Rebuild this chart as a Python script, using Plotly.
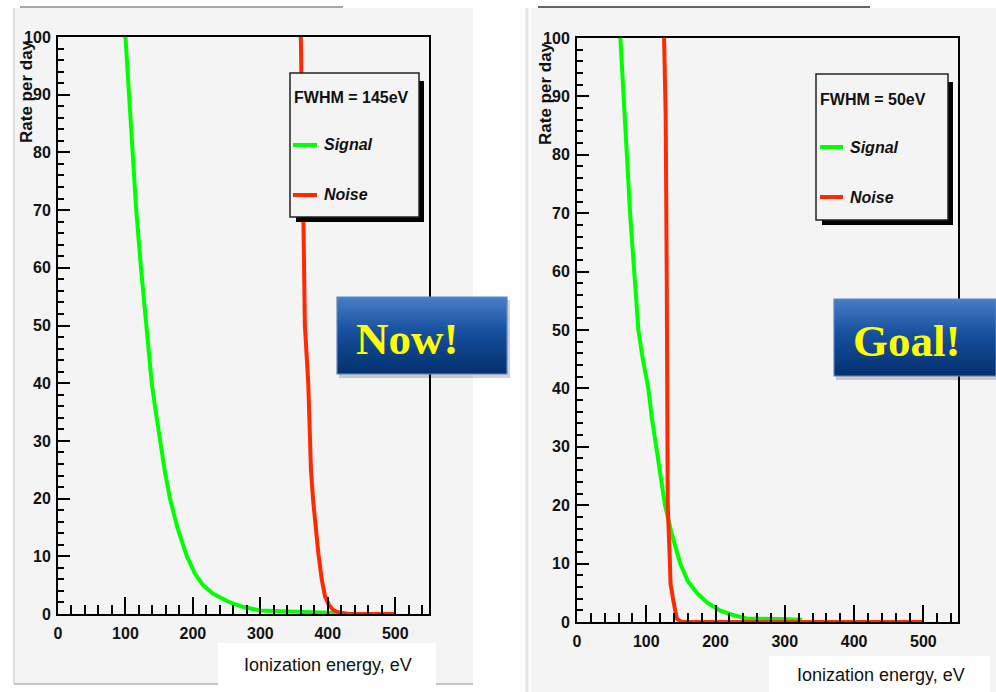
import plotly.graph_objects as go

W, H = 996, 692

# ---------------- data ----------------
now_signal_E = [100, 105, 110, 116, 123, 131, 139, 145, 151, 158, 166, 177, 191, 203, 215, 230, 255, 275, 300, 340, 380, 430]
now_signal_R = [100, 90, 80, 70, 60, 50, 40, 35, 30, 25, 20, 15, 10, 7, 5, 3.5, 2, 1.2, 0.6, 0.4, 0.2, 0.1]
now_noise_E = [360, 361, 363, 366, 371, 373, 375, 378, 382, 386, 391, 396, 402, 408, 415, 428, 500]
now_noise_R = [100, 90, 70, 50, 40, 32, 25, 20, 15, 10.5, 6, 3, 1.5, 0.7, 0.3, 0, 0]

goal_signal_E = [62.6, 68, 72, 76.6, 82, 88.6, 95, 103, 108, 114, 120, 127, 137, 149, 160, 173, 188, 206, 225, 245, 290, 325]
goal_signal_R = [100, 90, 80, 70, 60, 50, 45, 40, 35, 30, 25, 20, 15, 10, 7, 5, 3.3, 2, 1.2, 0.6, 0.5, 0.4]
goal_noise_E = [125.7, 128, 129.5, 130, 131, 134, 135, 139, 144, 151, 500]
goal_noise_R = [100, 87, 60, 40, 20, 10.6, 6.6, 3.7, 0.6, 0, 0]

x_ticks = [0, 100, 200, 300, 400, 500]
y_ticks = [0, 10, 20, 30, 40, 50, 60, 70, 80, 90, 100]
fwhm_labels = ["FWHM = 145eV", "FWHM = 50eV"]
badges = ["Now!", "Goal!"]
x_title = "Ionization energy, eV"
y_title = "Rate per day"

GREEN = "#00ff00"
RED = "#ff2a00"
BG = "#f4f4f4"


def px(x):
    return x / W


def py(y):
    return 1 - y / H


fig = go.Figure()

fig.add_trace(go.Scatter(x=now_signal_E, y=now_signal_R, mode="lines",
                         line=dict(color=GREEN, width=4), xaxis="x", yaxis="y", showlegend=False))
fig.add_trace(go.Scatter(x=now_noise_E, y=now_noise_R, mode="lines",
                         line=dict(color=RED, width=4), xaxis="x", yaxis="y", showlegend=False))
fig.add_trace(go.Scatter(x=goal_signal_E, y=goal_signal_R, mode="lines",
                         line=dict(color=GREEN, width=4), xaxis="x2", yaxis="y2", showlegend=False))
fig.add_trace(go.Scatter(x=goal_noise_E, y=goal_noise_R, mode="lines",
                         line=dict(color=RED, width=4), xaxis="x2", yaxis="y2", showlegend=False))

tickfont = dict(family="Liberation Sans, Arial", size=16, color="#111", weight="bold")


def xaxis(domain, anchor):
    return dict(domain=domain, anchor=anchor, range=[0, 550], tickvals=x_ticks, automargin=False,
                ticks="inside", ticklen=17, tickwidth=1.5, tickcolor="black",
                minor=dict(dtick=20, tick0=0, ticks="inside", ticklen=9, tickwidth=1.5, tickcolor="black"),
                showline=True, linecolor="black", linewidth=2, mirror=True,
                showgrid=False, zeroline=False, tickfont=tickfont, ticklabelstandoff=4,
                fixedrange=True)


def yaxis(domain, anchor):
    return dict(domain=domain, anchor=anchor, range=[0, 100], tickvals=y_ticks, automargin=False,
                ticks="inside", ticklen=12, tickwidth=1.5, tickcolor="black",
                minor=dict(dtick=2, tick0=0, ticks="inside", ticklen=6, tickwidth=1.5, tickcolor="black"),
                showline=True, linecolor="black", linewidth=2, mirror=True,
                showgrid=False, zeroline=False, tickfont=tickfont, ticklabelstandoff=2,
                fixedrange=True)


shapes = []
annotations = []

# canvas panels
shapes.append(dict(type="rect", xref="paper", yref="paper", x0=px(14), x1=px(473), y0=py(684), y1=py(8),
                   fillcolor=BG, line=dict(width=0), layer="below"))
shapes.append(dict(type="line", xref="paper", yref="paper", x0=px(14), x1=px(14), y0=py(684), y1=py(8),
                   line=dict(color="#dddddd", width=2), layer="below"))
shapes.append(dict(type="line", xref="paper", yref="paper", x0=px(14), x1=px(473), y0=py(684), y1=py(684),
                   line=dict(color="#c4c4c4", width=2), layer="below"))
shapes.append(dict(type="line", xref="paper", yref="paper", x0=px(20), x1=px(343), y0=py(7), y1=py(7),
                   line=dict(color="#8a8a8a", width=1.5), layer="below"))

shapes.append(dict(type="rect", xref="paper", yref="paper", x0=px(531), x1=px(996), y0=py(692), y1=py(8),
                   fillcolor=BG, line=dict(width=0), layer="below"))
shapes.append(dict(type="line", xref="paper", yref="paper", x0=px(527), x1=px(527), y0=py(692), y1=py(8),
                   line=dict(color="#e6e6e6", width=3), layer="below"))
shapes.append(dict(type="line", xref="paper", yref="paper", x0=px(538), x1=px(870), y0=py(7), y1=py(7),
                   line=dict(color="#333333", width=1.5), layer="below"))

# x titles in white boxes
for (x0, x1, y0, y1) in [(218, 436, 643, 685), (769, 990, 656, 692)]:
    shapes.append(dict(type="rect", xref="paper", yref="paper", x0=px(x0), x1=px(x1), y0=py(y1), y1=py(y0),
                       fillcolor="white", line=dict(width=0)))
    annotations.append(dict(xref="paper", yref="paper", x=px((x0 + x1) / 2 + 1), y=py((y0 + y1) / 2 + 1),
                            text=x_title, showarrow=False, xanchor="center", yanchor="middle",
                            font=dict(family="Liberation Sans, Arial", size=18, color="#111")))

# y titles
for (cx, cy) in [(27, 92), (545, 94)]:
    annotations.append(dict(xref="paper", yref="paper", x=px(cx), y=py(cy), text=y_title, textangle=-90,
                            showarrow=False, xanchor="center", yanchor="middle",
                            font=dict(family="Liberation Sans, Arial", size=17, color="#111", weight="bold")))

# legends
legends = [dict(box=(290, 419, 73, 217), fwhm=fwhm_labels[0], ty=(97, 145, 195), lx=(293, 317)),
           dict(box=(816, 948, 74, 220), fwhm=fwhm_labels[1], ty=(99, 147, 197), lx=(820, 843))]
for lg in legends:
    x0, x1, y0, y1 = lg["box"]
    shapes.append(dict(type="rect", xref="paper", yref="paper", x0=px(x0 + 6), x1=px(x1 + 5),
                       y0=py(y1 + 5), y1=py(y0 + 8), fillcolor="black", line=dict(width=0)))
    shapes.append(dict(type="rect", xref="paper", yref="paper", x0=px(x0), x1=px(x1),
                       y0=py(y1), y1=py(y0), fillcolor=BG, line=dict(color="#222", width=1.5)))
    annotations.append(dict(xref="paper", yref="paper", x=px(x0 + 2), y=py(lg["ty"][0]), text=lg["fwhm"],
                            showarrow=False, xanchor="left", yanchor="middle",
                            font=dict(family="Liberation Sans, Arial", size=16, color="#111", weight="bold")))
    for name, col, yy in [("Signal", GREEN, lg["ty"][1]), ("Noise", RED, lg["ty"][2])]:
        shapes.append(dict(type="line", xref="paper", yref="paper", x0=px(lg["lx"][0]), x1=px(lg["lx"][1]),
                           y0=py(yy), y1=py(yy), line=dict(color=col, width=4)))
        annotations.append(dict(xref="paper", yref="paper", x=px(lg["lx"][1] + 5), y=py(yy),
                                text="<b><i>%s</i></b>" % name, showarrow=False, xanchor="left",
                                yanchor="middle",
                                font=dict(family="Liberation Sans, Arial", size=16, color="#111")))


# badges with vertical gradient
def lerp(c1, c2, t):
    return tuple(int(round(a + (b - a) * t)) for a, b in zip(c1, c2))


stops = [(0.0, (74, 126, 198)), (0.45, (22, 80, 158)), (1.0, (3, 48, 110))]


def grad(t):
    for i in range(len(stops) - 1):
        t0, c0 = stops[i]
        t1, c1 = stops[i + 1]
        if t <= t1:
            return lerp(c0, c1, (t - t0) / (t1 - t0))
    return stops[-1][1]


badge_boxes = [((337, 507, 297, 374), (407, 339)), ((834, 996, 299, 376), (907, 341))]
for (box, (tx, ty)), label in zip(badge_boxes, badges):
    x0, x1, y0, y1 = box
    shapes.append(dict(type="rect", xref="paper", yref="paper", x0=px(x0 + 2), x1=px(min(x1 + 3, W)),
                       y0=py(y1 + 4), y1=py(y0 + 3), fillcolor="rgba(0,0,0,0.18)", line=dict(width=0)))
    n = 26
    h = (y1 - y0) / n
    for i in range(n):
        c = grad((i + 0.5) / n)
        shapes.append(dict(type="rect", xref="paper", yref="paper", x0=px(x0), x1=px(x1),
                           y0=py(min(y0 + (i + 1) * h + 1.5, y1)), y1=py(y0 + i * h),
                           fillcolor="rgb(%d,%d,%d)" % c, line=dict(width=0)))
    shapes.append(dict(type="rect", xref="paper", yref="paper", x0=px(x0), x1=px(x1),
                       y0=py(y1), y1=py(y0), fillcolor="rgba(0,0,0,0)",
                       line=dict(color="#5f86c4", width=1.2)))
    annotations.append(dict(xref="paper", yref="paper", x=px(tx), y=py(ty), text="<b>%s</b>" % label,
                            showarrow=False, xanchor="center", yanchor="middle",
                            font=dict(family="Liberation Serif, DejaVu Serif", size=45, color="#ffff00")))

fig.update_layout(
    width=W, height=H, margin=dict(l=0, r=0, t=0, b=0, pad=0, autoexpand=False),
    paper_bgcolor="white", plot_bgcolor=BG,
    xaxis=xaxis([58 / W, 429 / W], "y"),
    yaxis=yaxis([(H - 614) / H, (H - 37) / H], "x"),
    xaxis2=xaxis([577 / W, 958 / W], "y2"),
    yaxis2=yaxis([(H - 622) / H, (H - 38) / H], "x2"),
    shapes=shapes, annotations=annotations, showlegend=False,
)

fig.write_html("out.html", config={"displayModeBar": False},
               post_script="document.body.style.margin='0';document.body.style.overflow='hidden';")
